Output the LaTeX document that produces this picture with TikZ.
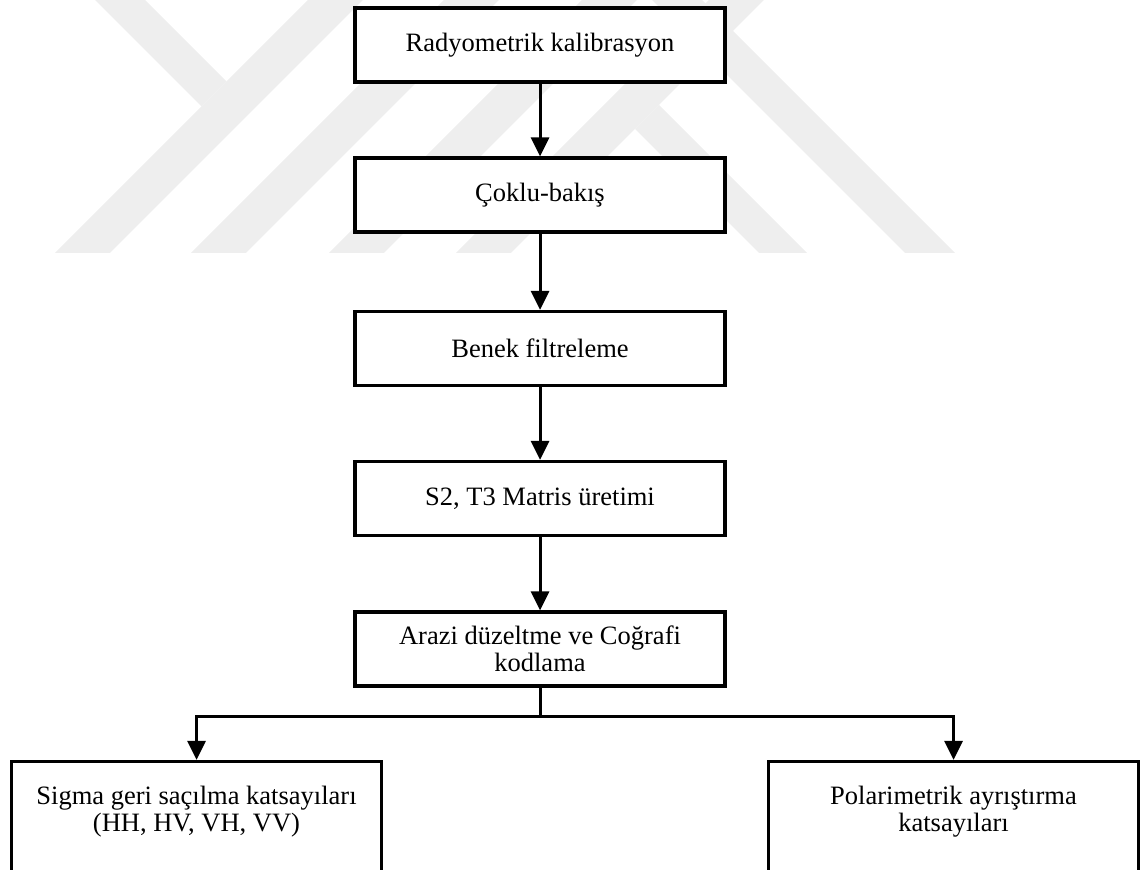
\documentclass[tikz,border=0pt]{standalone}
\usepackage{fontspec}
\setmainfont{Liberation Serif}
\usetikzlibrary{arrows.meta}
\definecolor{filigrane}{HTML}{EEEEEE}

\begin{document}
\begin{tikzpicture}[x=0.5pt,y=-0.5pt,>={Triangle[width=9pt,length=9.5pt]},
    etape/.style={draw,line width=1.6pt,fill=white,minimum width=185pt,minimum height=37pt,align=center,font=\fontsize{13.25}{13.5}\selectfont},
    resultat/.style={draw,line width=1.6pt,fill=white,minimum width=185pt,minimum height=59.25pt},
    texte/.style={align=center,font=\fontsize{13.25}{13.5}\selectfont},
    fleche/.style={->,line width=1.5pt}]

        % Fixer le cadre de la figure
        \useasboundingbox (0,0) rectangle (1141,870);

        % Filigrane en arrière-plan (bandes grises)
        \fill[filigrane] (55,253) -- (110,253) -- (363,0) -- (308,0) -- cycle;
        \fill[filigrane] (95,0) -- (145,0) -- (226.5,81.5) -- (201.5,106.5) -- cycle;
        \fill[filigrane] (191,253) -- (246,253) -- (499,0) -- (444,0) -- cycle;
        \fill[filigrane] (329,253) -- (384,253) -- (637,0) -- (582,0) -- cycle;
        \fill[filigrane] (456,253) -- (511,253) -- (764,0) -- (709,0) -- cycle;
        \fill[filigrane] (759,253) -- (807,253) -- (659,105) -- (635,129) -- cycle;
        \fill[filigrane] (905,253) -- (955,253) -- (702,0) -- (652,0) -- cycle;

        % Les étapes du traitement
        \node[etape] (radyo) at (540,45) {Radyometrik kalibrasyon};
        \node[etape] (coklu) at (540,195) {Çoklu-bakış};
        \node[etape] (benek) at (540,348.5) {Benek filtreleme};
        \node[etape] (matris) at (540,498.5) {S2, T3 Matris üretimi};
        \node[etape] (arazi) at (540,649) {Arazi düzeltme ve Coğrafi\\kodlama};

        % Les deux résultats en bas
        \node[resultat] (sigma) at (196.5,820.75) {};
        \node[texte] (sigmatxt) at (196.5,812) {Sigma geri saçılma katsayıları\\(HH, HV, VH, VV)};
        \node[resultat] (polar) at (953.5,820.75) {};
        \node[texte] (polartxt) at (953.5,812) {Polarimetrik ayrıştırma\\katsayıları};

        % Flèches entre les étapes
        \draw[fleche] (radyo) -- (coklu);
        \draw[fleche] (coklu) -- (benek);
        \draw[fleche] (benek) -- (matris);
        \draw[fleche] (matris) -- (arazi);

        % Embranchement vers les résultats
        \coordinate (branche) at (540,717);
        \draw[line width=1.5pt] (arazi) -- (branche);
        \draw[fleche] (branche) -| (sigma);
        \draw[fleche] (branche) -| (polar);
    \end{tikzpicture}
\end{document}
